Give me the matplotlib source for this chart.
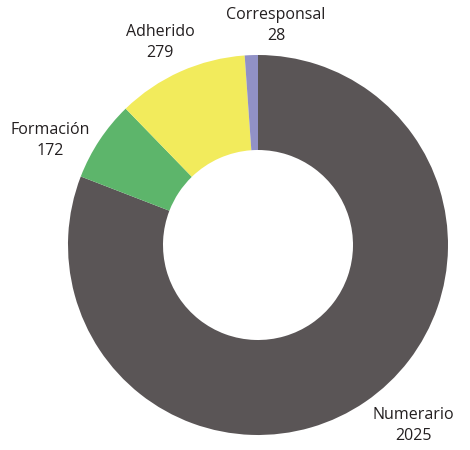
import matplotlib
matplotlib.use("Agg")
import matplotlib.pyplot as plt

# membership by category
labels = ["Numerario", "Formación", "Adherido", "Corresponsal"]
values = [2025, 172, 279, 28]
colors = ["#5a5556", "#5db56b", "#f2eb5c", "#9191c6"]

# where each label sits (data coords, radius 1 = outer edge)
label_pos = [(0.82, -0.95), (-1.095, 0.55), (-0.516, 1.065), (0.095, 1.155)]

plt.rcParams['font.family'] = ['Open Sans', 'DejaVu Sans']

fig = plt.figure(figsize=(4.7, 4.5), dpi=100)
ax = fig.add_axes([0, 0, 1, 1])

ax.pie(values, colors=colors, startangle=90, counterclock=False,
       radius=1.0, wedgeprops=dict(width=0.5, linewidth=0))

for lab, val, (x, y) in zip(labels, values, label_pos):
    ax.text(x, y, f"{lab}\n{val}", ha="center", va="center",
            fontsize=11.5, color="#231f20", linespacing=1.4)

ax.set_xlim(-258 / 190, (470 - 258) / 190)
ax.set_ylim(-205 / 190, (450 - 205) / 190)
ax.set_aspect("auto")
ax.axis("off")

fig.savefig("out.png", dpi=100)
